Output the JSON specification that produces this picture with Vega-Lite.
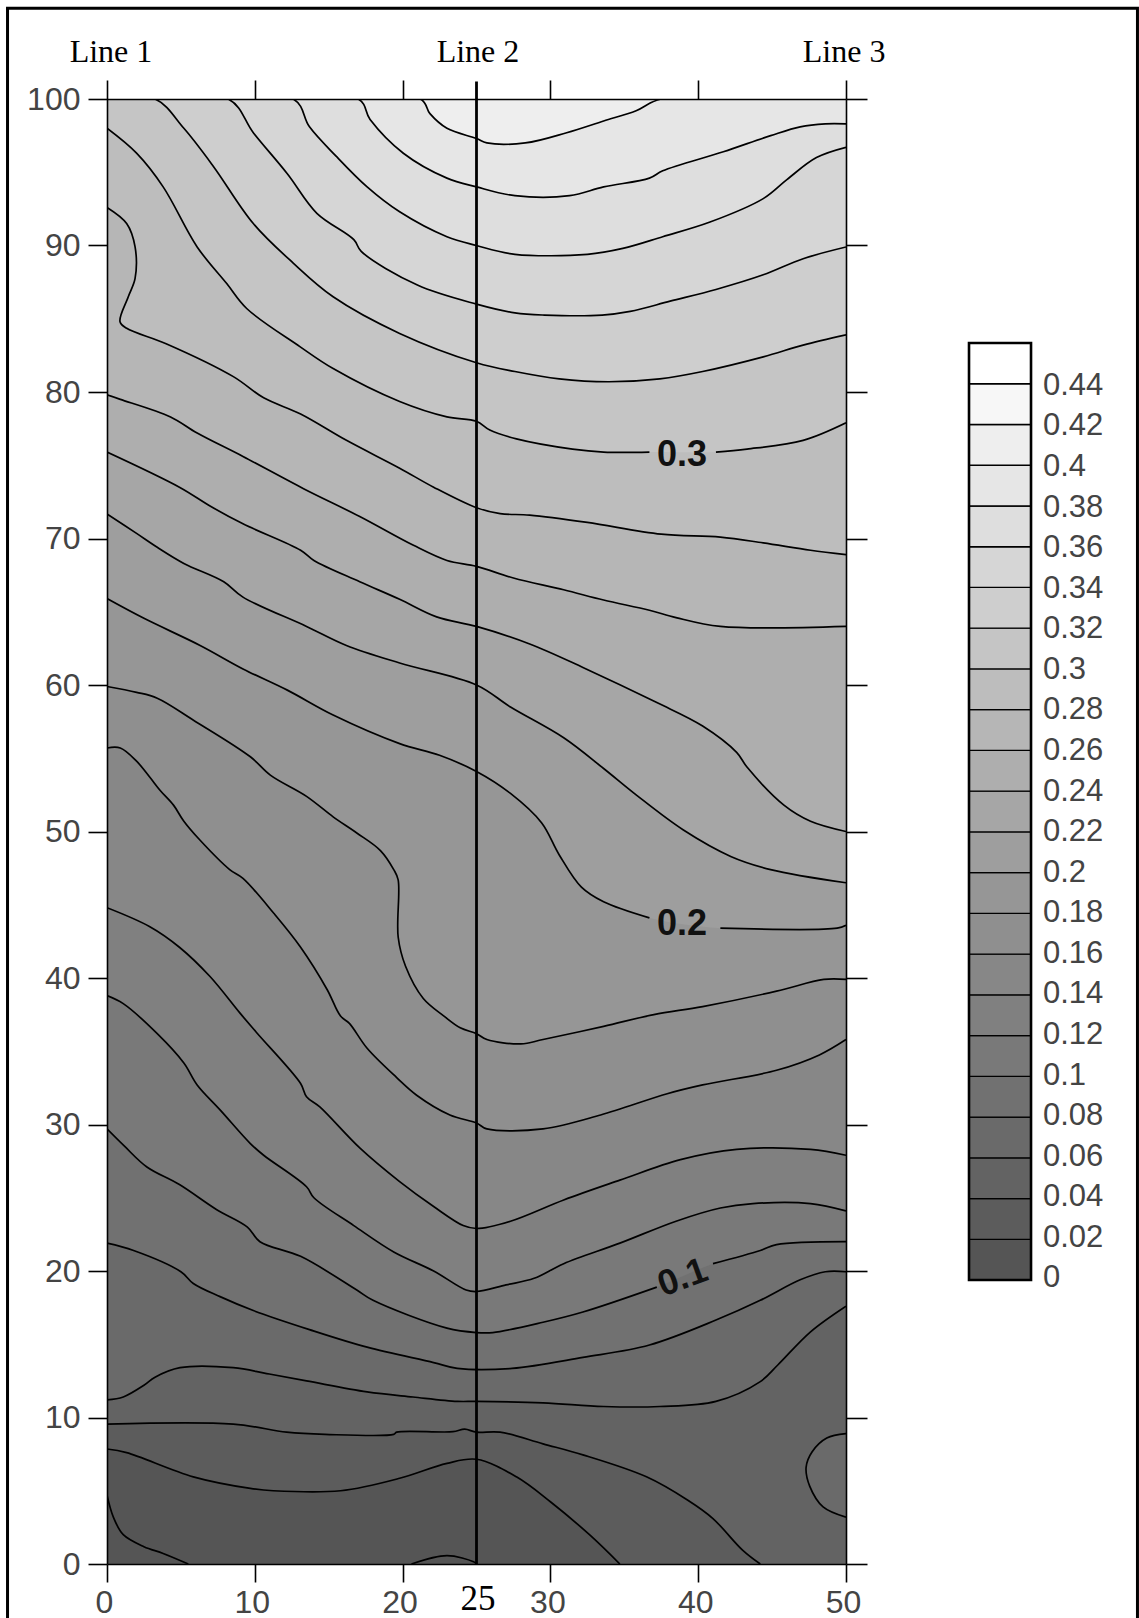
{"$schema":"https://vega.github.io/schema/vega-lite/v6.json","width":739,"height":1465,"autosize":"none","padding":{"left":107,"top":99,"right":293,"bottom":54},"background":"white","config":{"view":{"stroke":null}},
"datasets":{"contours":[
{"l":0.42,"x":0,"y":100},{"l":0.42,"x":50,"y":100},
{"l":0.40,"x":0,"y":100},{"l":0.40,"x":21.2,"y":100},{"l":0.40,"x":21.85,"y":99},{"l":0.40,"x":23,"y":98},{"l":0.40,"x":25,"y":97.3},{"l":0.40,"x":25.7,"y":97},{"l":0.40,"x":28.3,"y":97},{"l":0.40,"x":31.1,"y":97.7},{"l":0.40,"x":33.6,"y":98.5},{"l":0.40,"x":35.8,"y":99.2},{"l":0.40,"x":37.5,"y":100},{"l":0.40,"x":50,"y":100},
{"l":0.38,"x":0,"y":100},{"l":0.38,"x":17,"y":100},{"l":0.38,"x":17.8,"y":98.6},{"l":0.38,"x":20.05,"y":96.3},{"l":0.38,"x":23,"y":94.6},{"l":0.38,"x":25,"y":94},{"l":0.38,"x":27.6,"y":93.4},{"l":0.38,"x":31.3,"y":93.4},{"l":0.38,"x":33.6,"y":94},{"l":0.38,"x":36.7,"y":94.6},{"l":0.38,"x":37.6,"y":95.1},{"l":0.38,"x":41.7,"y":96.4},{"l":0.38,"x":44.9,"y":97.5},{"l":0.38,"x":46.9,"y":98.1},{"l":0.38,"x":48.6,"y":98.3},{"l":0.38,"x":50,"y":98.3},
{"l":0.36,"x":0,"y":100},{"l":0.36,"x":12.6,"y":100},{"l":0.36,"x":13.7,"y":98.1},{"l":0.36,"x":15.5,"y":96.1},{"l":0.36,"x":17.6,"y":94},{"l":0.36,"x":19.8,"y":92.3},{"l":0.36,"x":23,"y":90.6},{"l":0.36,"x":25,"y":90},{"l":0.36,"x":27.6,"y":89.4},{"l":0.36,"x":32.5,"y":89.4},{"l":0.36,"x":34.9,"y":89.8},{"l":0.36,"x":37.6,"y":90.6},{"l":0.36,"x":40.8,"y":91.6},{"l":0.36,"x":44.4,"y":93.2},{"l":0.36,"x":46,"y":94.5},{"l":0.36,"x":48,"y":96},{"l":0.36,"x":50,"y":96.7},
{"l":0.34,"x":0,"y":100},{"l":0.34,"x":8.2,"y":100},{"l":0.34,"x":9.9,"y":97.7},{"l":0.34,"x":12.2,"y":94.9},{"l":0.34,"x":14.2,"y":92.2},{"l":0.34,"x":16.7,"y":90.4},{"l":0.34,"x":17.2,"y":89.6},{"l":0.34,"x":21,"y":87.3},{"l":0.34,"x":25,"y":86},{"l":0.34,"x":27.6,"y":85.4},{"l":0.34,"x":29.6,"y":85.25},{"l":0.34,"x":33.5,"y":85.25},{"l":0.34,"x":35.4,"y":85.5},{"l":0.34,"x":38.1,"y":86.2},{"l":0.34,"x":41.2,"y":87},{"l":0.34,"x":44.4,"y":88},{"l":0.34,"x":47.1,"y":89.1},{"l":0.34,"x":50,"y":89.9},
{"l":0.32,"x":0,"y":100},{"l":0.32,"x":3.25,"y":100},{"l":0.32,"x":5.2,"y":98},{"l":0.32,"x":7.2,"y":95.4},{"l":0.32,"x":9.9,"y":91.5},{"l":0.32,"x":12.6,"y":88.8},{"l":0.32,"x":15.3,"y":86.5},{"l":0.32,"x":19.8,"y":84},{"l":0.32,"x":25,"y":82},{"l":0.32,"x":27.6,"y":81.4},{"l":0.32,"x":30.6,"y":80.9},{"l":0.32,"x":33.9,"y":80.7},{"l":0.32,"x":37.4,"y":80.9},{"l":0.32,"x":40.3,"y":81.4},{"l":0.32,"x":44.4,"y":82.4},{"l":0.32,"x":47.1,"y":83.2},{"l":0.32,"x":50,"y":83.9},
{"l":0.30,"x":0,"y":98},{"l":0.30,"x":2,"y":96.3},{"l":0.30,"x":3.8,"y":94},{"l":0.30,"x":6.1,"y":89.9},{"l":0.30,"x":8.1,"y":87.4},{"l":0.30,"x":9.45,"y":85.7},{"l":0.30,"x":13.05,"y":83.1},{"l":0.30,"x":15.3,"y":81.6},{"l":0.30,"x":19.8,"y":79.35},{"l":0.30,"x":23,"y":78.3},{"l":0.30,"x":25,"y":78},{"l":0.30,"x":25.9,"y":77.4},{"l":0.30,"x":27.7,"y":76.8},{"l":0.30,"x":31.5,"y":76.1},{"l":0.30,"x":33.6,"y":75.9},{"l":0.30,"x":36.7,"y":75.9},{"l":0.30,"x":38.9,"y":null},{"l":0.30,"x":41.2,"y":75.9},{"l":0.30,"x":43.3,"y":76.1},{"l":0.30,"x":47.1,"y":76.7},{"l":0.30,"x":50,"y":77.9},
{"l":0.28,"x":0,"y":92.6},{"l":0.28,"x":1.33,"y":91.5},{"l":0.28,"x":1.9,"y":89.9},{"l":0.28,"x":1.9,"y":87.75},{"l":0.28,"x":1.44,"y":86.5},{"l":0.28,"x":0.88,"y":84.8},{"l":0.28,"x":1.33,"y":84.35},{"l":0.28,"x":4,"y":83.3},{"l":0.28,"x":8.55,"y":81.05},{"l":0.28,"x":10.6,"y":79.6},{"l":0.28,"x":13.1,"y":78.5},{"l":0.28,"x":16.2,"y":76.7},{"l":0.28,"x":19.8,"y":74.8},{"l":0.28,"x":22.1,"y":73.5},{"l":0.28,"x":25,"y":72.1},{"l":0.28,"x":26.6,"y":71.7},{"l":0.28,"x":28.6,"y":71.6},{"l":0.28,"x":32.5,"y":71.1},{"l":0.28,"x":37.5,"y":70.3},{"l":0.28,"x":41.5,"y":70.1},{"l":0.28,"x":44.4,"y":69.7},{"l":0.28,"x":47.6,"y":69.2},{"l":0.28,"x":50,"y":68.9},
{"l":0.26,"x":0,"y":79.8},{"l":0.26,"x":0.9,"y":79.5},{"l":0.26,"x":4.3,"y":78.3},{"l":0.26,"x":6.1,"y":77.2},{"l":0.26,"x":9.2,"y":75.6},{"l":0.26,"x":13.3,"y":73.4},{"l":0.26,"x":17.1,"y":71.5},{"l":0.26,"x":20.7,"y":69.55},{"l":0.26,"x":23,"y":68.5},{"l":0.26,"x":25,"y":68.1},{"l":0.26,"x":27.5,"y":67.3},{"l":0.26,"x":30.9,"y":66.5},{"l":0.26,"x":33.6,"y":65.8},{"l":0.26,"x":36.7,"y":65.1},{"l":0.26,"x":38.5,"y":64.6},{"l":0.26,"x":41.5,"y":64},{"l":0.26,"x":50,"y":64},
{"l":0.24,"x":0,"y":75.9},{"l":0.24,"x":4.9,"y":73.5},{"l":0.24,"x":7,"y":72.2},{"l":0.24,"x":9.2,"y":71},{"l":0.24,"x":13.1,"y":69.2},{"l":0.24,"x":14,"y":68.5},{"l":0.24,"x":17.1,"y":67.05},{"l":0.24,"x":19.8,"y":65.85},{"l":0.24,"x":22.3,"y":64.65},{"l":0.24,"x":25,"y":64},{"l":0.24,"x":28.6,"y":62.8},{"l":0.24,"x":32.2,"y":61.2},{"l":0.24,"x":37.2,"y":58.8},{"l":0.24,"x":40.3,"y":57.2},{"l":0.24,"x":42.6,"y":55.4},{"l":0.24,"x":43.3,"y":54.4},{"l":0.24,"x":45.8,"y":51.8},{"l":0.24,"x":47.6,"y":50.7},{"l":0.24,"x":50,"y":50},
{"l":0.22,"x":0,"y":71.67},{"l":0.22,"x":2,"y":70.35},{"l":0.22,"x":3.4,"y":69.4},{"l":0.22,"x":5.2,"y":68.3},{"l":0.22,"x":7.9,"y":67.05},{"l":0.22,"x":9.2,"y":66},{"l":0.22,"x":13.5,"y":64},{"l":0.22,"x":16.2,"y":62.7},{"l":0.22,"x":19.8,"y":61.5},{"l":0.22,"x":25,"y":60},{"l":0.22,"x":27.3,"y":58.5},{"l":0.22,"x":30.9,"y":56.4},{"l":0.22,"x":33.6,"y":54.3},{"l":0.22,"x":35.8,"y":52.5},{"l":0.22,"x":39,"y":50.1},{"l":0.22,"x":42.2,"y":48.3},{"l":0.22,"x":44.9,"y":47.4},{"l":0.22,"x":50,"y":46.5},
{"l":0.20,"x":0,"y":65.9},{"l":0.20,"x":2.5,"y":64.55},{"l":0.20,"x":6.3,"y":62.7},{"l":0.20,"x":9.2,"y":61.1},{"l":0.20,"x":12.2,"y":59.65},{"l":0.20,"x":15.3,"y":57.95},{"l":0.20,"x":19.8,"y":56},{"l":0.20,"x":22.5,"y":55.2},{"l":0.20,"x":25,"y":54.1},{"l":0.20,"x":27.3,"y":52.6},{"l":0.20,"x":29.4,"y":50.6},{"l":0.20,"x":30.6,"y":48.4},{"l":0.20,"x":32.1,"y":46.2},{"l":0.20,"x":33.6,"y":45.2},{"l":0.20,"x":36.7,"y":44.1},{"l":0.20,"x":38.9,"y":null},{"l":0.20,"x":41.5,"y":43.4},{"l":0.20,"x":49.4,"y":43.4},{"l":0.20,"x":50,"y":43.6},
{"l":0.18,"x":0,"y":59.9},{"l":0.18,"x":2,"y":59.5},{"l":0.18,"x":3.4,"y":59.1},{"l":0.18,"x":5.85,"y":57.6},{"l":0.18,"x":9.7,"y":55.1},{"l":0.18,"x":11.05,"y":53.85},{"l":0.18,"x":13.5,"y":52.4},{"l":0.18,"x":15.3,"y":51},{"l":0.18,"x":16.9,"y":49.9},{"l":0.18,"x":18.5,"y":48.7},{"l":0.18,"x":19.4,"y":47.4},{"l":0.18,"x":19.7,"y":46.7},{"l":0.18,"x":19.7,"y":42.8},{"l":0.18,"x":20.2,"y":40.8},{"l":0.18,"x":21.4,"y":38.6},{"l":0.18,"x":22.8,"y":37.4},{"l":0.18,"x":23.9,"y":36.6},{"l":0.18,"x":25,"y":36.2},{"l":0.18,"x":25.7,"y":35.8},{"l":0.18,"x":28,"y":35.5},{"l":0.18,"x":29.5,"y":35.8},{"l":0.18,"x":33.6,"y":36.7},{"l":0.18,"x":37,"y":37.5},{"l":0.18,"x":40.3,"y":38.05},{"l":0.18,"x":45.3,"y":39.1},{"l":0.18,"x":48.5,"y":39.9},{"l":0.18,"x":50,"y":39.9},
{"l":0.16,"x":0,"y":55.7},{"l":0.16,"x":0.9,"y":55.7},{"l":0.16,"x":2,"y":54.8},{"l":0.16,"x":2.9,"y":53.7},{"l":0.16,"x":3.6,"y":52.8},{"l":0.16,"x":4.5,"y":51.8},{"l":0.16,"x":5.2,"y":50.7},{"l":0.16,"x":6.3,"y":49.4},{"l":0.16,"x":8.3,"y":47.4},{"l":0.16,"x":9.2,"y":46.8},{"l":0.16,"x":11.3,"y":44.4},{"l":0.16,"x":13.1,"y":42.1},{"l":0.16,"x":14.9,"y":39.2},{"l":0.16,"x":15.8,"y":37.4},{"l":0.16,"x":16.4,"y":36.9},{"l":0.16,"x":17.6,"y":35.2},{"l":0.16,"x":19.6,"y":33.2},{"l":0.16,"x":20.95,"y":32},{"l":0.16,"x":23.2,"y":30.65},{"l":0.16,"x":25,"y":30.1},{"l":0.16,"x":25.7,"y":29.7},{"l":0.16,"x":29.5,"y":29.7},{"l":0.16,"x":33.4,"y":30.65},{"l":0.16,"x":37.9,"y":32.1},{"l":0.16,"x":40.3,"y":32.7},{"l":0.16,"x":45.3,"y":33.7},{"l":0.16,"x":48.2,"y":34.75},{"l":0.16,"x":50,"y":35.8},
{"l":0.14,"x":0,"y":44.8},{"l":0.14,"x":2.9,"y":43.5},{"l":0.14,"x":4.9,"y":42.1},{"l":0.14,"x":6.97,"y":40.1},{"l":0.14,"x":9,"y":37.6},{"l":0.14,"x":10.1,"y":36.3},{"l":0.14,"x":13.1,"y":32.8},{"l":0.14,"x":13.5,"y":31.9},{"l":0.14,"x":14.4,"y":31.2},{"l":0.14,"x":17.1,"y":28.4},{"l":0.14,"x":19.8,"y":26.1},{"l":0.14,"x":22.1,"y":24.4},{"l":0.14,"x":24.1,"y":23.1},{"l":0.14,"x":25,"y":22.9},{"l":0.14,"x":27.3,"y":23.4},{"l":0.14,"x":30.9,"y":24.85},{"l":0.14,"x":34.7,"y":26.2},{"l":0.14,"x":38.8,"y":27.6},{"l":0.14,"x":42.6,"y":28.3},{"l":0.14,"x":47.6,"y":28.3},{"l":0.14,"x":50,"y":27.9},
{"l":0.12,"x":0,"y":38.8},{"l":0.12,"x":1.1,"y":38.25},{"l":0.12,"x":3.4,"y":36.2},{"l":0.12,"x":5.2,"y":34.2},{"l":0.12,"x":6.1,"y":32.7},{"l":0.12,"x":7.65,"y":31},{"l":0.12,"x":9.7,"y":28.7},{"l":0.12,"x":10.6,"y":27.9},{"l":0.12,"x":13.5,"y":25.75},{"l":0.12,"x":14,"y":25},{"l":0.12,"x":16.7,"y":23.1},{"l":0.12,"x":19.4,"y":21.3},{"l":0.12,"x":22.1,"y":20},{"l":0.12,"x":24.3,"y":18.7},{"l":0.12,"x":25,"y":18.6},{"l":0.12,"x":27,"y":19.05},{"l":0.12,"x":28.9,"y":19.5},{"l":0.12,"x":30.9,"y":20.5},{"l":0.12,"x":34.7,"y":21.9},{"l":0.12,"x":38.5,"y":23.4},{"l":0.12,"x":41.5,"y":24.3},{"l":0.12,"x":43.7,"y":24.6},{"l":0.12,"x":47.6,"y":24.6},{"l":0.12,"x":50,"y":24.1},
{"l":0.10,"x":0,"y":29.7},{"l":0.10,"x":1.2,"y":28.5},{"l":0.10,"x":2.7,"y":27.1},{"l":0.10,"x":4.9,"y":25.9},{"l":0.10,"x":7.4,"y":24.2},{"l":0.10,"x":9.5,"y":23},{"l":0.10,"x":10.35,"y":22},{"l":0.10,"x":13.1,"y":21},{"l":0.10,"x":16.9,"y":18.7},{"l":0.10,"x":18,"y":18},{"l":0.10,"x":23,"y":16.1},{"l":0.10,"x":25,"y":15.8},{"l":0.10,"x":26.1,"y":15.8},{"l":0.10,"x":29.5,"y":16.5},{"l":0.10,"x":32.2,"y":17.2},{"l":0.10,"x":37.2,"y":18.9},{"l":0.10,"x":38.9,"y":null},{"l":0.10,"x":41,"y":20.5},{"l":0.10,"x":44.2,"y":21.4},{"l":0.10,"x":45.3,"y":21.8},{"l":0.10,"x":50,"y":22},
{"l":0.08,"x":0,"y":21.9},{"l":0.08,"x":1.8,"y":21.4},{"l":0.08,"x":5,"y":19.95},{"l":0.08,"x":5.84,"y":19.15},{"l":0.08,"x":7.65,"y":18.25},{"l":0.08,"x":9.9,"y":17.3},{"l":0.08,"x":13.7,"y":16},{"l":0.08,"x":17.6,"y":14.8},{"l":0.08,"x":22.1,"y":13.75},{"l":0.08,"x":23.7,"y":13.35},{"l":0.08,"x":27.4,"y":13.35},{"l":0.08,"x":32.2,"y":14.1},{"l":0.08,"x":36.7,"y":14.95},{"l":0.08,"x":41.2,"y":16.65},{"l":0.08,"x":44.2,"y":18},{"l":0.08,"x":46.9,"y":19.4},{"l":0.08,"x":48.6,"y":19.95},{"l":0.08,"x":50,"y":19.95},
{"l":0.06,"x":0,"y":11.2},{"l":0.06,"x":1.1,"y":11.4},{"l":0.06,"x":2.5,"y":12.2},{"l":0.06,"x":3.25,"y":12.75},{"l":0.06,"x":4.94,"y":13.4},{"l":0.06,"x":8.55,"y":13.4},{"l":0.06,"x":10.8,"y":13},{"l":0.06,"x":13.5,"y":12.5},{"l":0.06,"x":17.6,"y":11.75},{"l":0.06,"x":20.7,"y":11.4},{"l":0.06,"x":23.7,"y":11.1},{"l":0.06,"x":25,"y":11.1},{"l":0.06,"x":29.5,"y":11},{"l":0.06,"x":33.6,"y":10.75},{"l":0.06,"x":37.4,"y":10.75},{"l":0.06,"x":41.2,"y":11.1},{"l":0.06,"x":44.2,"y":12.45},{"l":0.06,"x":45.4,"y":13.6},{"l":0.06,"x":47.6,"y":15.85},{"l":0.06,"x":50,"y":17.6},
{"l":0.04,"x":0,"y":9.55},{"l":0.04,"x":8.55,"y":9.55},{"l":0.04,"x":12.15,"y":9},{"l":0.04,"x":14.75,"y":8.85},{"l":0.04,"x":19.4,"y":8.85},{"l":0.04,"x":19.6,"y":9},{"l":0.04,"x":23.4,"y":9.03},{"l":0.04,"x":24.2,"y":9.2},{"l":0.04,"x":25,"y":9},{"l":0.04,"x":26.6,"y":9},{"l":0.04,"x":29.5,"y":8.2},{"l":0.04,"x":32.2,"y":7.45},{"l":0.04,"x":36.5,"y":5.95},{"l":0.04,"x":39.3,"y":4.35},{"l":0.04,"x":41,"y":3.1},{"l":0.04,"x":43,"y":0.95},{"l":0.04,"x":44.2,"y":0},
{"l":0.02,"x":0,"y":7.85},{"l":0.02,"x":1.33,"y":7.6},{"l":0.02,"x":5.84,"y":5.95},{"l":0.02,"x":9.7,"y":5.16},{"l":0.02,"x":11.25,"y":5},{"l":0.02,"x":15.8,"y":5},{"l":0.02,"x":19.8,"y":5.85},{"l":0.02,"x":23,"y":6.87},{"l":0.02,"x":25,"y":7.15},{"l":0.02,"x":27.7,"y":5.95},{"l":0.02,"x":30,"y":4.25},{"l":0.02,"x":32.7,"y":1.95},{"l":0.02,"x":34.7,"y":0}
],
"island":[{"l":0.08,"x":50,"y":8.9},{"l":0.08,"x":48.7,"y":8.6},{"l":0.08,"x":47.7,"y":7.65},{"l":0.08,"x":47.3,"y":6.6},{"l":0.08,"x":47.55,"y":5.3},{"l":0.08,"x":48.45,"y":3.9},{"l":0.08,"x":50,"y":3.2}],
"corners":[{"id":"a","x":0,"y":4.7},{"id":"a","x":0.43,"y":3.2},{"id":"a","x":1.1,"y":2},{"id":"a","x":2.5,"y":1.18},{"id":"a","x":3.8,"y":0.72},{"id":"a","x":5.5,"y":0},{"id":"b","x":20.6,"y":0},{"id":"b","x":23,"y":0.57},{"id":"b","x":24.8,"y":0.15},{"id":"b","x":25,"y":0}],
"contourLabels":[{"label":"0.3","l":0.30,"x":38.9,"y":75.85},{"label":"0.2","l":0.20,"x":38.9,"y":43.85},{"label":"0.1","l":0.10,"x":38.9,"y":19.7}],
"legend":[{"lo":0,"hi":0.02,"label":"0"},{"lo":0.02,"hi":0.04,"label":"0.02"},{"lo":0.04,"hi":0.06,"label":"0.04"},{"lo":0.06,"hi":0.08,"label":"0.06"},{"lo":0.08,"hi":0.10,"label":"0.08"},{"lo":0.10,"hi":0.12,"label":"0.1"},{"lo":0.12,"hi":0.14,"label":"0.12"},{"lo":0.14,"hi":0.16,"label":"0.14"},{"lo":0.16,"hi":0.18,"label":"0.16"},{"lo":0.18,"hi":0.20,"label":"0.18"},{"lo":0.20,"hi":0.22,"label":"0.2"},{"lo":0.22,"hi":0.24,"label":"0.22"},{"lo":0.24,"hi":0.26,"label":"0.24"},{"lo":0.26,"hi":0.28,"label":"0.26"},{"lo":0.28,"hi":0.30,"label":"0.28"},{"lo":0.30,"hi":0.32,"label":"0.3"},{"lo":0.32,"hi":0.34,"label":"0.32"},{"lo":0.34,"hi":0.36,"label":"0.34"},{"lo":0.36,"hi":0.38,"label":"0.36"},{"lo":0.38,"hi":0.40,"label":"0.38"},{"lo":0.40,"hi":0.42,"label":"0.4"},{"lo":0.42,"hi":0.44,"label":"0.42"},{"lo":0.44,"hi":0.46,"label":"0.44"}]},
"layer":[
{"resolve":{"axis":{"x":"independent","y":"independent"}},
"layer":[
{"data":{"name":"contours"},"mark":{"type":"area","clip":true,"line":false,"interpolate":"catmull-rom","invalid":"filter"},
"encoding":{"x":{"field":"x","type":"quantitative","scale":{"domain":[0,50],"nice":false,"zero":false},"axis":{"orient":"bottom","values":[0,10,20,30,40,50],"tickSize":18,"tickColor":"black","tickWidth":1.6,"domainColor":"black","domainWidth":1.6,"grid":false,"title":null,"labelFont":"Liberation Sans","labelFontSize":32,"labelColor":"#444444","labelPadding":5,"labelOffset":-3,"labelFlush":false,"labelOverlap":false,"zindex":1}},
"y":{"field":"y","type":"quantitative","scale":{"domain":[0,100],"nice":false,"zero":false},"axis":{"orient":"left","values":[0,10,20,30,40,50,60,70,80,90,100],"tickSize":19,"tickColor":"black","tickWidth":1.6,"domainColor":"black","domainWidth":1.6,"grid":false,"title":null,"labelFont":"Liberation Sans","labelFontSize":32,"labelColor":"#444444","labelPadding":8,"labelFlush":false,"labelOverlap":false,"zindex":1}},
"y2":{"datum":0},"detail":{"field":"l"},"order":{"value":null},
"fill":{"field":"l","type":"quantitative","legend":null,"scale":{"domain":[0.02,0.46],"range":["#555555","#ffffff"]}}}},
{"data":{"name":"island"},"mark":{"type":"area","clip":true,"interpolate":"catmull-rom"},
"encoding":{"x":{"field":"x","type":"quantitative","axis":null},"y":{"field":"y","type":"quantitative","axis":null},"y2":{"datum":6},"order":{"value":null},
"fill":{"field":"l","type":"quantitative","legend":null,"scale":{"domain":[0.02,0.46],"range":["#555555","#ffffff"]}}}},
{"data":{"name":"contours"},"mark":{"type":"line","color":"black","strokeWidth":1.7,"clip":true,"interpolate":"catmull-rom"},
"encoding":{"x":{"field":"x","type":"quantitative","axis":{"orient":"top","values":[0,10,20,30,40,50],"tickSize":19,"tickColor":"black","tickWidth":1.6,"domainColor":"black","domainWidth":1.6,"grid":false,"title":null,"labels":false,"zindex":1}},
"y":{"field":"y","type":"quantitative","axis":{"orient":"right","values":[0,10,20,30,40,50,60,70,80,90,100],"tickSize":21,"tickColor":"black","tickWidth":1.6,"domainColor":"black","domainWidth":1.6,"grid":false,"title":null,"labels":false,"zindex":1}},
"detail":{"field":"l"},"order":{"value":null}}},
{"data":{"name":"island"},"mark":{"type":"line","color":"black","strokeWidth":1.7,"clip":true,"interpolate":"catmull-rom"},
"encoding":{"x":{"field":"x","type":"quantitative","axis":null},"y":{"field":"y","type":"quantitative","axis":null},"order":{"value":null}}},
{"data":{"name":"corners"},"mark":{"type":"line","color":"black","strokeWidth":1.7,"clip":true,"interpolate":"catmull-rom"},
"encoding":{"x":{"field":"x","type":"quantitative","axis":null},"y":{"field":"y","type":"quantitative","axis":null},"detail":{"field":"id"},"order":{"value":null}}},
{"data":{"values":[{"x":25,"y0":0,"y1":101.2}]},"mark":{"type":"rule","color":"black","strokeWidth":2.8},
"encoding":{"x":{"field":"x","type":"quantitative","axis":null},"y":{"field":"y0","type":"quantitative","axis":null},"y2":{"field":"y1"}}},
{"data":{"name":"contourLabels"},"transform":[{"filter":"datum.label!=='0.1'"}],"mark":{"type":"text","font":"Liberation Sans","fontWeight":"bold","fontSize":36,"color":"#111111","baseline":"middle","align":"center","dy":2.5},
"encoding":{"x":{"field":"x","type":"quantitative","axis":null},"y":{"field":"y","type":"quantitative","axis":null},"text":{"field":"label"}}},
{"data":{"name":"contourLabels"},"transform":[{"filter":"datum.label==='0.1'"}],"mark":{"type":"text","font":"Liberation Sans","fontWeight":"bold","fontSize":36,"color":"#111111","baseline":"middle","align":"center","angle":340,"dy":2.5},
"encoding":{"x":{"field":"x","type":"quantitative","axis":null},"y":{"field":"y","type":"quantitative","axis":null},"text":{"field":"label"}}},
{"data":{"values":[{"label":"Line 1","x":0.27,"y":102.5},{"label":"Line 2","x":25.1,"y":102.55},{"label":"Line 3","x":49.87,"y":102.55}]},"mark":{"type":"text","font":"Liberation Serif","fontSize":32,"color":"black","baseline":"alphabetic","align":"center"},
"encoding":{"x":{"field":"x","type":"quantitative","axis":null},"y":{"field":"y","type":"quantitative","axis":null},"text":{"field":"label"}}},
{"data":{"values":[{"label":"25","x":25.1,"y":-3.14}]},"mark":{"type":"text","font":"Liberation Serif","fontSize":35,"color":"black","baseline":"alphabetic","align":"center"},
"encoding":{"x":{"field":"x","type":"quantitative","axis":null},"y":{"field":"y","type":"quantitative","axis":null},"text":{"field":"label"}}},
{"data":{"values":[{"x0":-6.73,"x1":69.72,"y0":-5.2,"y1":106.2}]},"mark":{"type":"rect","fill":null,"fillOpacity":0,"stroke":"black","strokeWidth":3},
"encoding":{"x":{"field":"x0","type":"quantitative","axis":null},"x2":{"field":"x1"},"y":{"field":"y0","type":"quantitative","axis":null},"y2":{"field":"y1"}}}
]},
{"resolve":{"scale":{"y":"independent"}},"layer":[
{"data":{"name":"legend"},"mark":{"type":"rect","stroke":"black","strokeWidth":1.3},
"encoding":{"x":{"datum":0,"type":"quantitative","scale":{"domain":[-13.903,-1.984],"nice":false,"zero":false},"axis":null},"x2":{"datum":1},
"y":{"field":"lo","type":"quantitative","scale":{"domain":[-0.1394,0.5798],"nice":false,"zero":false},"axis":null},"y2":{"field":"hi"},
"fill":{"field":"hi","type":"quantitative","legend":null,"scale":{"domain":[0.02,0.46],"range":["#555555","#ffffff"]}}}},
{"data":{"values":[{"lo":0,"hi":0.46}]},"mark":{"type":"rect","fillOpacity":0,"stroke":"black","strokeWidth":2.6},
"encoding":{"x":{"datum":0,"type":"quantitative","axis":null},"x2":{"datum":1},"y":{"field":"lo","type":"quantitative","scale":{"domain":[-0.1394,0.5798],"nice":false,"zero":false},"axis":null},"y2":{"field":"hi"}}},
{"data":{"name":"legend"},"mark":{"type":"text","font":"Liberation Sans","fontSize":31,"color":"#444444","align":"left","baseline":"middle","dx":12,"dy":2.5},
"encoding":{"x":{"datum":1,"type":"quantitative","axis":null},"y":{"field":"lo","type":"quantitative","scale":{"domain":[-0.142,0.5802],"nice":false,"zero":false},"axis":null},"text":{"field":"label"}}}
]}
],
"resolve":{"scale":{"x":"independent","y":"independent"}}}
